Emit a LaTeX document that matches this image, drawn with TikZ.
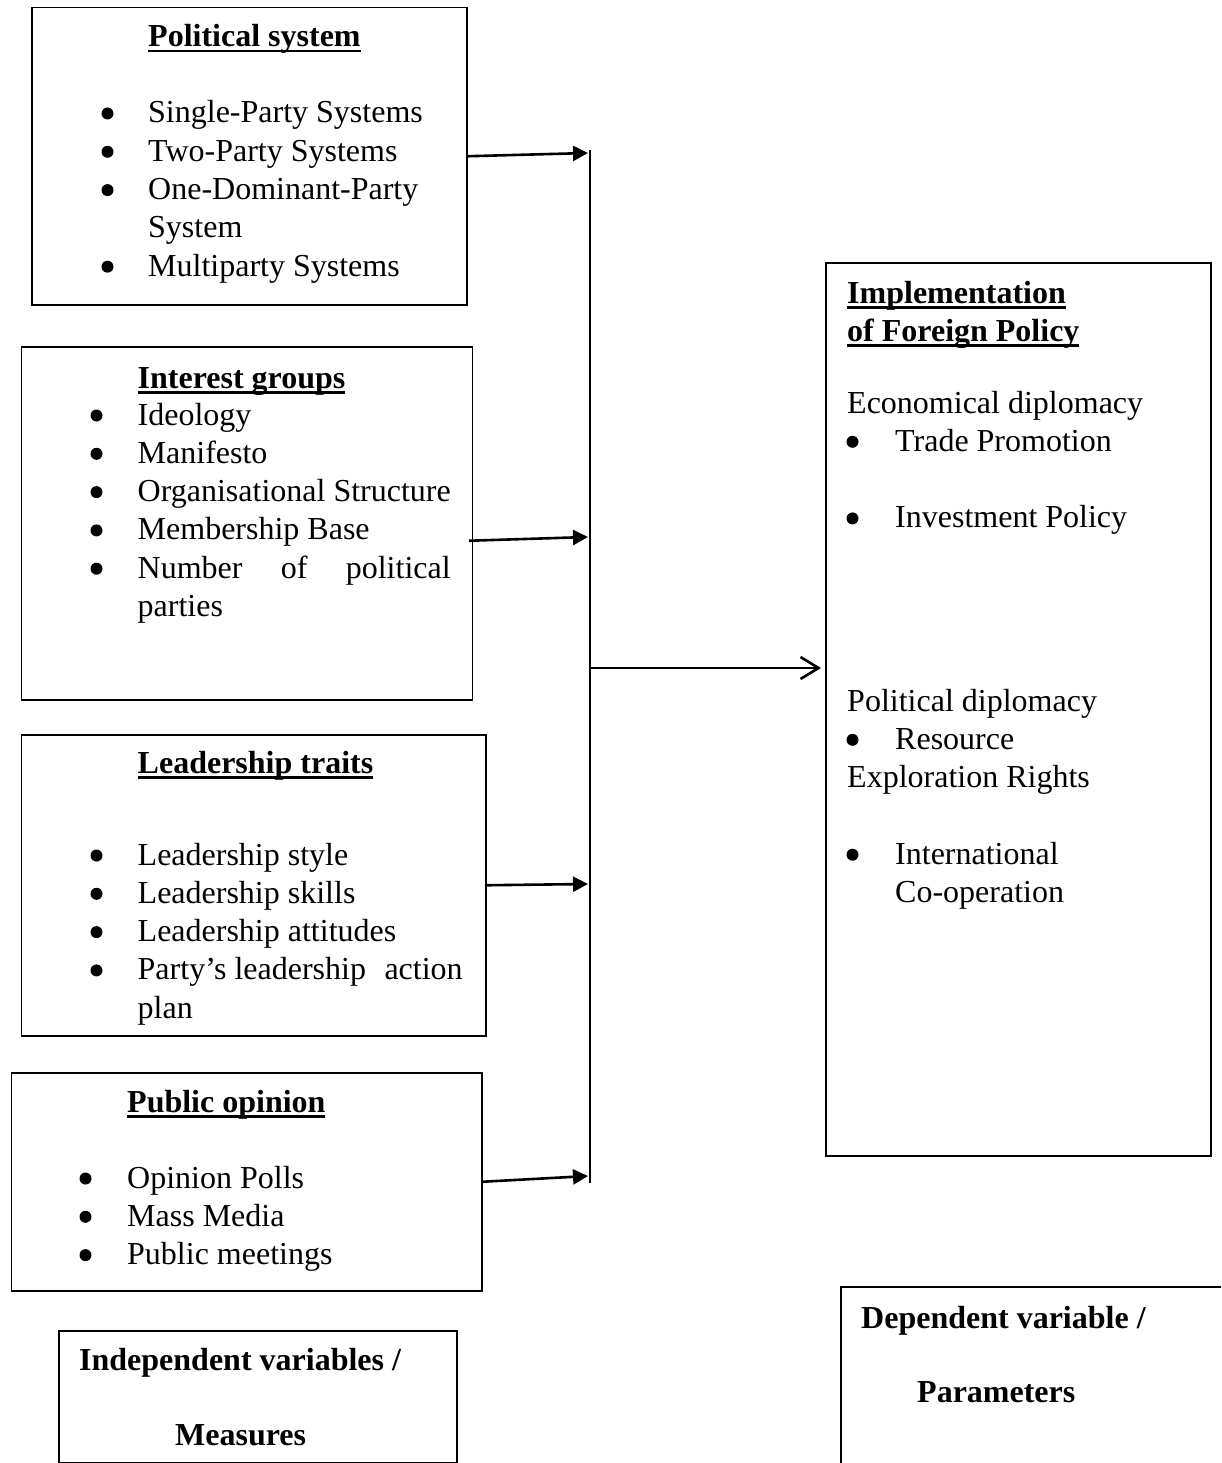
\documentclass[tikz,border=0pt]{standalone}
\usepackage{fontspec}
\setmainfont{Liberation Serif}
\usepackage{tikz}
\usetikzlibrary{arrows.meta}
\newcommand\titleul[1]{\setbox0\hbox{\textbf{#1}}\rlap{\vrule height -3pt depth 5.5pt width \wd0}\box0}
\newcommand\rowskip{38.3}

\begin{document}
\begin{tikzpicture}[x=1pt, y=-1pt, >={Triangle[length=15pt,width=15pt]},
  box/.style={draw, line width=1.5pt, anchor=north west, inner sep=0pt},
  txt/.style={anchor=base west, inner sep=0pt, font=\fontsize{32}{38.3}\selectfont},
  link/.style={->, line width=2.6pt}]

\useasboundingbox (0,0) rectangle (1221,1463);
\clip (0,0) rectangle (1221,1463);

\node[box, minimum width=435pt, minimum height=297pt] (pol) at (31,7) {};
\node[box, minimum width=451pt, minimum height=353pt] (grp) at (20.5,346) {};
\node[box, minimum width=464.5pt, minimum height=301pt] (lead) at (20.5,734) {};
\node[box, minimum width=470.5pt, minimum height=218pt] (pub) at (10.5,1072) {};
\node[box, minimum width=398pt, minimum height=132pt] (indep) at (58,1330) {};
\node[box, minimum width=385pt, minimum height=893pt] (impl) at (825,262) {};
\node[box, minimum width=420pt, minimum height=240pt] (dep) at (840,1286) {};

\node[txt] (pol-title) at (148,47) {\titleul{Political system}};
\node[txt] (pol-list) at (101,123) {\begin{tabular}[t]{@{}p{47pt}@{}l@{}}
  & Single-Party Systems\\ & Two-Party Systems\\
  & One-Dominant-Party\\ & System\\ & Multiparty Systems\end{tabular}};

\node[txt] (grp-title) at (137.5,388) {\titleul{Interest groups}};
\node[txt] (grp-list) at (91,425) {\begin{tabular}[t]{@{}p{46.5pt}@{}l@{}}
  & Ideology\\ & Manifesto\\ & Organisational Structure\\
  & Membership Base\\ & \makebox[313pt][s]{Number of political}\\ & parties\end{tabular}};

\node[txt] (lead-title) at (137.5,773) {\titleul{Leadership traits}};
\node[txt] (lead-list) at (91,865) {\begin{tabular}[t]{@{}p{46.5pt}@{}l@{}}
  & Leadership style\\ & Leadership skills\\ & Leadership attitudes\\
  & \makebox[325pt][l]{Party’s leadership\hfill action}\\ & plan\end{tabular}};

\node[txt] (pub-title) at (127,1112) {\titleul{Public opinion}};
\node[txt] (pub-list) at (80,1188) {\begin{tabular}[t]{@{}p{47pt}@{}l@{}}
  & Opinion Polls\\ & Mass Media\\ & Public meetings\end{tabular}};

\node[txt] (indep-a) at (79,1370) {\textbf{Independent variables /}};
\node[txt] (indep-b) at (175,1445) {\textbf{Measures}};

\node[txt] (impl-title) at (847,303) {\begin{tabular}[t]{@{}l@{}}
  \titleul{Implementation}\\ \titleul{of Foreign Policy}\end{tabular}};
\node[txt] (impl-econ) at (847,413) {\begin{tabular}[t]{@{}p{48pt}@{}l@{}}
  \multicolumn{2}{@{}l@{}}{Economical diplomacy}\\ & Trade Promotion\\ & \\
  & Investment Policy\end{tabular}};
\node[txt] (impl-pol) at (847,711) {\begin{tabular}[t]{@{}p{48pt}@{}l@{}}
  \multicolumn{2}{@{}l@{}}{Political diplomacy}\\ & Resource\\
  \multicolumn{2}{@{}l@{}}{Exploration Rights}\\ & \\
  & International\\ & Co-operation\end{tabular}};

\node[txt] (dep-a) at (861,1328) {\textbf{Dependent variable /}};
\node[txt] (dep-b) at (917,1402) {\textbf{Parameters}};

\foreach \k in {0,1,2,4}
  \fill ([shift={(6.5,{\rowskip*\k-9.5})}]pol-list.base west) circle (6pt);
\foreach \k in {0,...,4}
  \fill ([shift={(5.5,{\rowskip*\k-9.5})}]grp-list.base west) circle (6pt);
\foreach \k in {0,...,3}
  \fill ([shift={(5.5,{\rowskip*\k-9.5})}]lead-list.base west) circle (6pt);
\foreach \k in {0,1,2}
  \fill ([shift={(5.5,{\rowskip*\k-9.5})}]pub-list.base west) circle (6pt);
\foreach \k in {1,3}
  \fill ([shift={(5.5,{\rowskip*\k-9.5})}]impl-econ.base west) circle (6pt);
\foreach \k in {1,4}
  \fill ([shift={(5.5,{\rowskip*\k-9.5})}]impl-pol.base west) circle (6pt);

\coordinate (top) at (590,150);
\coordinate (bot) at (590,1183);
\coordinate (hub) at (590,668);
\coordinate (in1) at (588,153);
\coordinate (in2) at (588,537);
\coordinate (in3) at (588,884);
\coordinate (in4) at (588,1176);

\draw[line width=2pt] (top) -- (bot);
\draw[link] (pol.east) -- (in1);
\draw[link] ([xshift=-4pt, yshift=-17.5pt]grp.east) -- (in2);
\draw[link] (lead.east) -- (in3);
\draw[link] (pub.east) -- (in4);
\draw[line width=2.6pt, -{Straight Barb[length=18pt,width=22pt]}, shorten >=4pt] (hub) -- (hub -| impl.west);

\end{tikzpicture}
\end{document}
